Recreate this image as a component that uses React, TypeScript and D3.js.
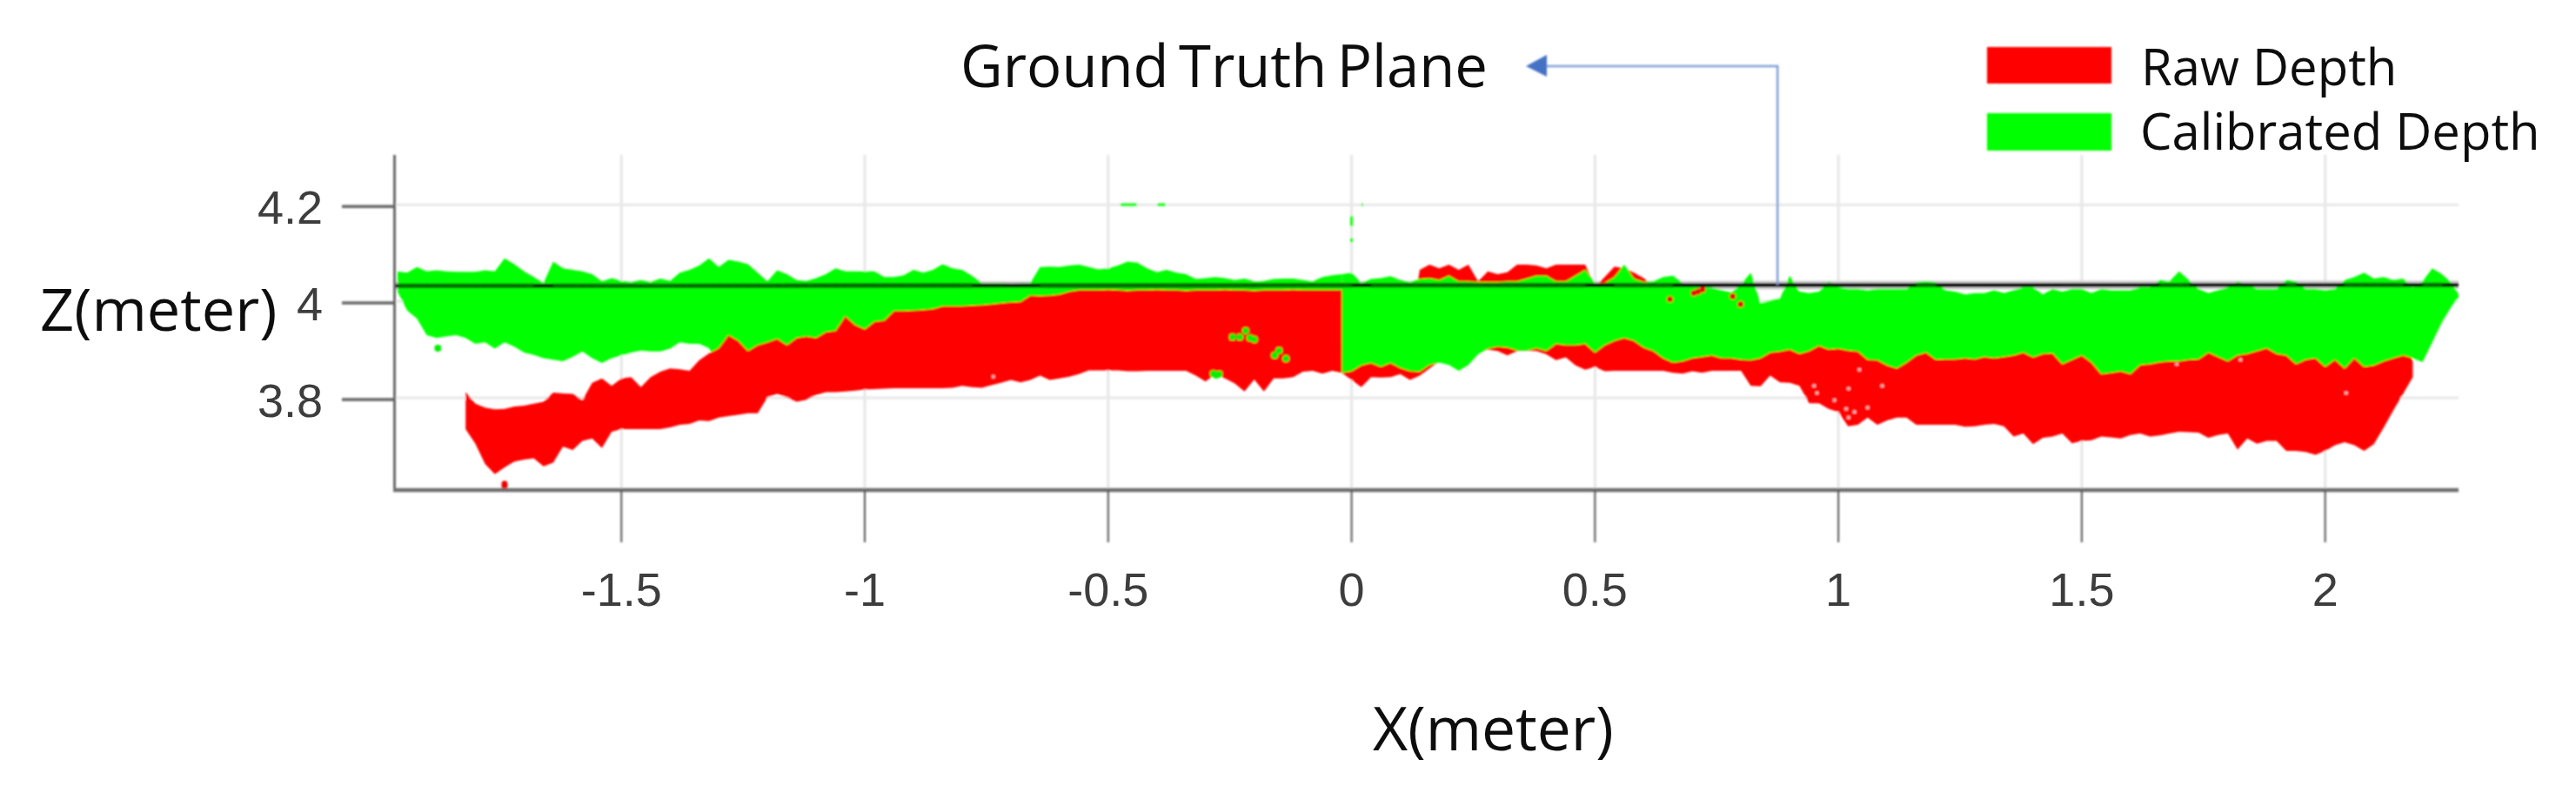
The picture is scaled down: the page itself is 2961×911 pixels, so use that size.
import React from "react";
import * as d3 from "d3";

// Point cloud envelopes, sampled every 0.02 m from x = -1.96 m. Depths in millimetres.
const sampleStart = -1.96;
const sampleStep = 0.02;

const calibratedTop = [
  4062,4059,4071,4062,4064,4062,4061,4061,4061,4064,4062,4089,4077,4062,4050,4038,4082,4068,4065,4062,4056,4041,4048,4042,4040,4044,4040,4047,4042,4059,4065,4074,4089,4071,4086,4082,
  4077,4059,4041,4064,4056,4044,4042,4048,4056,4068,4062,4062,4062,4062,4050,4050,4054,4065,4059,4065,4077,4068,4065,4053,4038,4038,4038,4036,4037,4038,4071,4072,4071,4074,4076,
  4071,4066,4068,4074,4082,4080,4068,4060,4065,4059,4056,4046,4048,4050,4048,4044,4047,4041,4042,4046,4047,4047,4044,4041,4050,4054,4056,4059,4038,4046,4048,4052,4044,4040,4046,4048,
  4044,4053,4041,4041,4040,4040,4040,4041,4041,4047,4053,4053,4041,4041,4053,4065,4038,4038,4050,4076,4047,4040,4041,4050,4053,4038,4029,4029,4028,4023,4018,4035,4059,3996,4002,4005,
  4053,4020,4017,4020,4041,4029,4026,4026,4023,4026,4026,4026,4026,4040,4041,4040,4023,4020,4014,4017,4017,4023,4017,4023,4029,4029,4014,4026,4020,4026,4026,4017,4026,4023,4023,4023,
  4029,4029,4044,4041,4062,4044,4026,4017,4023,4029,4041,4035,4026,4026,4026,4044,4041,4026,4026,4023,4026,4044,4050,4059,4047,4050,4044,4047,4029,4041,4068,4056,4038,4014,
];

const calibratedBottom = [
  4020,3981,3964,3930,3924,3927,3930,3924,3912,3915,3902,3915,3906,3894,3889,3882,3879,3876,3885,3896,3882,3872,3882,3888,3894,3898,3896,3896,3902,3915,3912,3912,3903,3867,3867,3867,
  3861,3861,3861,3861,3861,3861,3861,3861,3861,3861,3861,3861,3861,3861,3861,3861,3861,3861,3861,3861,3861,3861,3861,3861,3861,3861,3861,3861,3861,3861,3861,3861,3861,3861,3861,
  3861,3861,3861,3861,3861,3861,3861,3861,3861,3861,3861,3861,3861,3861,3861,3861,3861,3861,3861,3861,3861,3861,3861,3861,3861,3861,3852,3855,3867,3872,3864,3872,3862,3855,3854,3868,
  3873,3868,3856,3868,3890,3902,3906,3904,3898,3898,3903,3897,3912,3909,3909,3912,3894,3909,3918,3924,3918,3904,3897,3882,3873,3876,3882,3885,3888,3882,3882,3879,3878,3882,3894,3896,
  3900,3891,3897,3908,3900,3902,3898,3896,3879,3878,3867,3861,3873,3888,3894,3879,3880,3880,3882,3880,3885,3882,3885,3888,3894,3884,3891,3892,3870,3879,3888,3873,3849,3852,3855,3849,
  3868,3870,3874,3876,3876,3879,3880,3894,3885,3876,3888,3891,3897,3903,3891,3888,3870,3879,3882,3864,3879,3861,3882,3864,3867,3876,3882,3888,3882,3874,3915,3957,3990,4008,
];

// Raw depth begins at the eighth sample.
const rawFirstSample = 7;

const rawTop = [
  3812,3788,3780,3776,3777,3782,3784,3788,3792,3811,3809,3808,3795,3831,3840,3825,3840,3843,3822,3843,3854,3861,3859,3856,3878,3892,3903,3930,3918,
  3897,3909,3915,3922,3909,3924,3927,3924,3936,3939,3969,3951,3942,3958,3960,3980,3980,3981,3982,3984,3990,3990,3990,3991,3992,3994,3996,3998,3999,4012,4011,4012,4014,4020,4023,
  4023,4023,4024,4023,4022,4023,4023,4024,4023,4023,4022,4023,4023,4023,4024,4023,4023,4022,4023,4023,4023,4024,4023,4023,4023,4023,4023,
  3939,3939,3939,3939,3939,3939,3939,4065,4076,
  4068,4076,4065,4076,4041,4062,4056,4060,4076,4076,4074,4068,4076,4076,4076,4076,4029,4050,4072,4068,4059,4048,4029,
  3939,3939,3939,3939,3939,3939,3939,3939,3939,3939,3939,3939,3939,
  3939,3939,3939,3939,3939,3939,3939,3939,3939,3939,3939,3939,3939,3939,3939,3939,3939,3939,3939,3939,3939,3939,3939,3939,3939,3939,3939,3939,3939,3939,3939,3939,3939,3939,3939,3939,
  3939,3939,3939,3939,3939,3939,3939,3939,3939,3939,3939,3939,3939,3939,3939,3939,3939,3939,3939,3939,3939,3939,3939,3939,3939,3939,3939,3939,3874,
];

const rawBottom = [
  3735,3705,3663,3642,3656,3668,3672,3675,3658,3666,3699,3692,3711,3716,3696,3730,3735,3735,3735,3735,3735,3739,3744,3746,3753,3752,3759,3762,3765,
  3768,3768,3801,3808,3801,3792,3796,3806,3812,3812,3813,3815,3817,3818,3819,3820,3820,3820,3820,3820,3820,3821,3825,3822,3821,3826,3831,3837,3832,3837,3846,3837,3840,3844,3849,
  3857,3857,3857,3857,3855,3855,3856,3856,3856,3856,3856,3846,3834,3849,3840,3830,3813,3838,3813,3840,3840,3843,3854,3856,3850,3856,3852,3837,3822,3843,3842,3843,3849,3837,3846,3861,
  3876,3873,3867,3873,3894,3900,3897,3888,3897,3898,3897,3890,3878,3884,3867,3858,3864,3855,3856,3856,3856,3856,3856,3856,3852,3850,3855,3852,3856,3856,3856,3856,3825,3824,3846,3832,
  3831,3825,3789,3789,3777,3771,3741,3744,3759,3744,3753,3759,3759,3744,3744,3744,3744,3744,3740,3741,3744,3746,3741,3720,3726,3704,3717,3720,3726,3706,3711,3712,3720,3718,3716,3723,
  3726,3720,3722,3726,3730,3729,3728,3717,3723,3726,3693,3716,3705,3711,3711,3690,3690,3688,3682,3690,3702,3708,3702,3690,3704,3738,3774,3808,3843,3874,
];

// Where the raw cloud stops being drawn over the calibrated one.
const seamSample = 97;

const planeX = [-1.966, 2.274];
const planeDepth = [4032, 4034];
const planeSurfaceDepth = 4038;

// Stray points: [x metres, depth mm]
const calibratedSpecks: [number, number][] = [
  [-1.877, 3903], [-0.2445, 3926], [-0.2296, 3926], [-0.2177, 3939], [-0.2087, 3924], [-0.1998, 3921],
  [-0.149, 3898], [-0.158, 3888], [-0.135, 3881], [-0.278, 3847], [-0.272, 3849], [-0.284, 3850],
];
const rawSpecks: [number, number][] = [
  [-1.74, 3617], [-1.74, 3622], [0.712, 4020], [0.703, 4017], [0.721, 4024], [0.783, 4010], [0.654, 4004], [0.799, 3994],
];
const rawHoles: [number, number][] = [
  [0.956, 3810], [1.021, 3819], [0.992, 3795], [1.016, 3777], [1.033, 3771], [1.06, 3780], [1.09, 3825],
  [1.043, 3858], [1.021, 3759], [0.95, 3825], [2.043, 3810], [1.826, 3879], [1.695, 3870], [-0.736, 3844],
];
// Stray calibrated streaks: x0, x1, depth0, depth1
const strayX0 = [-0.475, -0.399, 0.02, 0, 0];
const strayX1 = [-0.441, -0.382, 0.024, 0, 0];
const strayDepth0 = [4200, 4200, 4200, 4177, 4131];
const strayDepth1 = [4200, 4200, 4200, 4155, 4122];

const xTicks = [-1.5, -1, -0.5, 0, 0.5, 1, 1.5, 2];
const xTickLabels = ["-1.5", "-1", "-0.5", "0", "0.5", "1", "1.5", "2"];
const zTicks = [3800, 4000, 4200];
const zTickLabels = ["3.8", "4", "4.2"];
const legendNames = ["Raw Depth", "Calibrated Depth"];
const legendColors = ["#ff0000", "#00ff00"];

const xLabel = "X(meter)";
const zLabel = "Z(meter)";
const annotation = "Ground Truth Plane";
const annotationX = 0.875;

const sans = "'Open Sans', sans-serif";
const tickFont = "'Liberation Sans', Arial, sans-serif";

export default function App() {
  const x = d3.scaleLinear().domain([-1.966, 2.274]).range([453.5, 2826]).clamp(true);
  const y = d3.scaleLinear().domain([3609, 4303]).range([563, 178]);

  const xs = calibratedTop.map((_, i) => sampleStart + sampleStep * i);
  const rawXs = rawTop.map((_, i) => xs[i + rawFirstSample]);

  const band = (
    bx: number[],
    top: number[],
    bottom: number[],
    from: number,
    to: number
  ) => {
    const idx = d3.range(from, Math.min(to + 1, bx.length));
    return (
      d3
        .area<number>()
        .x((i) => x(bx[i]))
        .y0((i) => y(bottom[i]))
        .y1((i) => y(top[i]))(idx) ?? ""
    );
  };

  const rawSeam = seamSample - rawFirstSample;
  const planeAt = d3.scaleLinear().domain(planeX).range(planeDepth);
  const planePath = d3
    .line<number>()
    .x((v) => x(v))
    .y((v) => y(planeAt(v)));

  const tintSegments = d3
    .pairs(d3.range(xs.length))
    .filter(([a, b]) => calibratedTop[a] > planeSurfaceDepth && calibratedTop[b] > planeSurfaceDepth);

  return (
    <svg
      width={2961}
      height={911}
      viewBox="0 0 2961 911"
      style={{ position: "absolute", left: 0, top: 0, display: "block", background: "#fff" }}
    >
      <defs>
        <filter id="soft" x="-2%" y="-2%" width="104%" height="104%">
          <feGaussianBlur stdDeviation="0.8" />
        </filter>
        <filter id="softText" x="-5%" y="-20%" width="110%" height="140%">
          <feGaussianBlur stdDeviation="0.6" />
        </filter>
      </defs>

      <g filter="url(#soft)">
        {/* grid */}
        {xTicks.map((t) => (
          <line key={t} x1={x(t)} x2={x(t)} y1={178} y2={563} stroke="#e6e6e6" strokeWidth={3} />
        ))}
        {zTicks.map((t) => (
          <line key={t} x1={453.5} x2={2826} y1={y(t)} y2={y(t)} stroke="#e8e8e8" strokeWidth={3} />
        ))}

        {/* gray halo of the plane */}
        <path d={planePath(planeX) ?? ""} stroke="#cfcfcf" strokeWidth={10} fill="none" />

        {/* clouds */}
        <path d={band(xs, calibratedTop, calibratedBottom, 0, seamSample)} fill="#00ff00" />
        <path d={band(rawXs, rawTop, rawBottom, 0, rawSeam)} fill="#ff0000" />
        <path d={band(rawXs, rawTop, rawBottom, rawSeam, rawTop.length)} fill="#ff0000" />
        <path d={band(xs, calibratedTop, calibratedBottom, seamSample, xs.length)} fill="#00ff00" />

        {strayX0.map((v, i) => (
          <line
            key={i}
            x1={x(v)}
            x2={x(strayX1[i])}
            y1={y(strayDepth0[i])}
            y2={y(strayDepth1[i])}
            stroke="#00ff00"
            strokeWidth={3}
          />
        ))}
        {calibratedSpecks.map(([a, b], i) => (
          <circle key={i} cx={x(a)} cy={y(b)} r={4} fill="#00f000" />
        ))}
        {rawSpecks.map(([a, b], i) => (
          <circle key={i} cx={x(a)} cy={y(b)} r={3.5} fill="#f00000" />
        ))}
        {rawHoles.map(([a, b], i) => (
          <circle key={i} cx={x(a)} cy={y(b)} r={2} fill="#ffb8b8" />
        ))}

        {/* ground truth plane */}
        <path d={planePath(planeX) ?? ""} stroke="#000" strokeWidth={4.5} fill="none" />
        {tintSegments.map(([a, b]) => (
          <line
            key={a}
            x1={x(xs[a])}
            x2={x(xs[b])}
            y1={y(planeAt(xs[a]))}
            y2={y(planeAt(xs[b]))}
            stroke="#006a00"
            strokeWidth={5}
          />
        ))}

        {/* axes */}
        <line x1={453.5} x2={453.5} y1={178} y2={565} stroke="#666" strokeWidth={3} />
        <line x1={452} x2={2826} y1={563} y2={563} stroke="#6e6e6e" strokeWidth={4.5} />
        {xTicks.map((t) => (
          <line key={t} x1={x(t)} x2={x(t)} y1={563} y2={623} stroke="#555" strokeWidth={2} />
        ))}
        {zTicks.map((t) => (
          <line key={t} x1={393} x2={453} y1={y(t) + 2} y2={y(t) + 2} stroke="#666" strokeWidth={3.5} />
        ))}

        {/* annotation arrow */}
        <path
          d={`M${x(annotationX)},${y(planeAt(annotationX))} V76 H1776`}
          stroke="#7f9fd8"
          strokeWidth={2.5}
          fill="none"
        />
        <path d="M1754,76 L1778,63 L1778,88 Z" fill="#4472c4" />

        {/* legend swatches */}
        <rect x={2284} y={54} width={143} height={42} fill={legendColors[0]} />
        <rect x={2284} y={130} width={143} height={43} fill={legendColors[1]} />
      </g>

      <g filter="url(#softText)">
        {xTicks.map((t, i) => (
          <text key={t} x={x(t)} y={696} textAnchor="middle" fontFamily={tickFont} fontSize={54} fill="#3c3c3c">
            {xTickLabels[i]}
          </text>
        ))}
        {zTicks.map((t, i) => (
          <text key={t} x={371} y={y(t) + 22} textAnchor="end" fontFamily={tickFont} fontSize={54} fill="#3c3c3c">
            {zTickLabels[i]}
          </text>
        ))}
        <text x={46} y={380} fontFamily={sans} fontSize={68.5} fill="#111">{zLabel}</text>
        <text x={1578} y={862} fontFamily={sans} fontSize={69.5} fill="#111">{xLabel}</text>
        <text x={1104} y={100} fontFamily={sans} fontSize={67} wordSpacing={-6} fill="#111">{annotation}</text>
        <text x={2461} y={98} fontFamily={sans} fontSize={58} fill="#111">{legendNames[0]}</text>
        <text x={2460} y={172} fontFamily={sans} fontSize={58} fill="#111">{legendNames[1]}</text>
      </g>
    </svg>
  );
}
